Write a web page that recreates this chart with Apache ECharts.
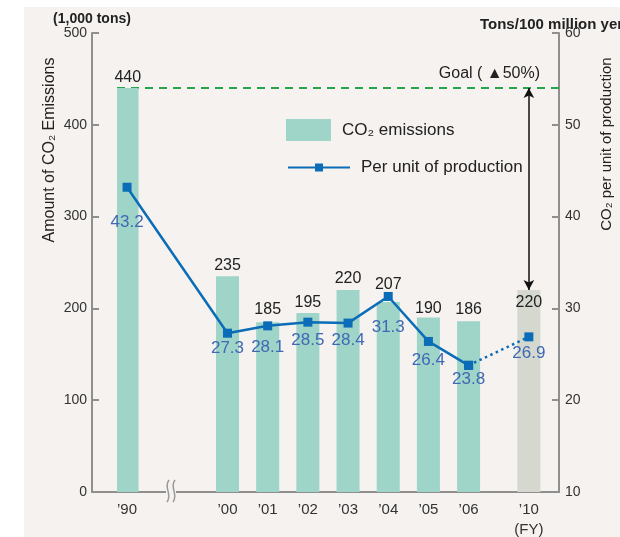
<!DOCTYPE html>
<html><head><meta charset="utf-8">
<script src="https://cdn.jsdelivr.net/npm/echarts@6/dist/echarts.min.js"></script>
<style>
html,body{margin:0;padding:0;background:#fff;}
#bg{position:absolute;left:24px;top:7px;right:0;bottom:0;background:#f5f2ef;}
#main{position:absolute;left:0;top:0;width:620px;height:537px;}
</style></head><body>
<div id="bg"></div><div id="main"></div>
<script>
// ---- data ----
const years = ['’90','’00','’01','’02','’03','’04','’05','’06','’10'];
const emissions = [440, 235, 185, 195, 220, 207, 190, 186, 220];
const perUnit = [43.2, 27.3, 28.1, 28.5, 28.4, 31.3, 26.4, 23.8, 26.9];
const goalValue = 440;
const goalText = 'Goal ( ▲50%)';
const leftRange = [0, 500, 100];
const rightRange = [10, 60, 10];
const leftUnit = '(1,000 tons)';
const rightUnit = 'Tons/100 million yen';
const projectedIndex = 8; // '10 target

// ---- layout (not data) ----
const slot = [0, 5, 7, 9, 11, 13, 15, 17, 20];
const slotCount = 22;
const perUnitLabelGap = [22, 2, 8, 5, 4, 18, 6, 1, 3];
const barLabelGap = [2, 3, 5, 2, 3, 9, 1, 4, 5];

const FONT = 'Liberation Sans, Arial, sans-serif';
const cats = Array(slotCount).fill('');
years.forEach((y, i) => { cats[slot[i]] = y; });

const barData = Array(slotCount).fill(null);
emissions.forEach((v, i) => {
  const item = { value: v, label: { distance: barLabelGap[i] } };
  if (i === projectedIndex) {
    item.itemStyle = { color: '#d5d8ce' };
    item.label.position = 'insideTop';
  }
  barData[slot[i]] = item;
});
const solidData = Array(slotCount).fill(null);
const dotData = Array(slotCount).fill(null);
perUnit.forEach((v, i) => {
  const item = { value: v, label: { distance: perUnitLabelGap[i] } };
  if (i < projectedIndex) solidData[slot[i]] = item;
  if (i >= projectedIndex - 1) {
    dotData[slot[i]] = { value: v, label: { show: i === projectedIndex, distance: perUnitLabelGap[i] } };
  }
});

const axisColor = '#8f8f8f';
const chart = echarts.init(document.getElementById('main'));
chart.setOption({
  animation: false,
  textStyle: { fontFamily: FONT },
  grid: [
    { left: 92, right: 61, top: 33, bottom: 45, outerBoundsMode: 'none', containLabel: false },
    { left: 117, right: 61, top: 33, bottom: 45, outerBoundsMode: 'none', containLabel: false }
  ],
  xAxis: [
    { type: 'value', gridIndex: 0, min: 0, max: 1,
      axisLine: { show: true, onZero: false, lineStyle: { color: axisColor, width: 2 } },
      axisTick: { show: false }, axisLabel: { show: false }, splitLine: { show: false } },
    { type: 'category', gridIndex: 1, data: cats,
      axisLine: { show: false, onZero: false }, axisTick: { show: false }, splitLine: { show: false },
      axisLabel: { interval: 0, margin: 8, fontSize: 15, color: '#333', lineHeight: 20, fontFamily: FONT,
        formatter: v => v === years[projectedIndex] ? v + '\n(FY)' : v } }
  ],
  yAxis: [
    { type: 'value', gridIndex: 0, position: 'left', min: leftRange[0], max: leftRange[1], interval: leftRange[2],
      name: leftUnit, nameLocation: 'end', nameGap: 6,
      nameTextStyle: { fontSize: 14, fontWeight: 'bold', color: '#222', align: 'center', fontFamily: FONT },
      axisLine: { show: true, lineStyle: { color: axisColor, width: 2 } },
      axisTick: { show: true, inside: true, length: 7, lineStyle: { color: axisColor, width: 2 } },
      axisLabel: { fontSize: 14, color: '#333', margin: 5, fontFamily: FONT },
      splitLine: { show: false } },
    { type: 'value', gridIndex: 0, position: 'right', min: rightRange[0], max: rightRange[1], interval: rightRange[2],
      axisLine: { show: true, lineStyle: { color: axisColor, width: 2 } },
      axisTick: { show: true, inside: true, length: 7, lineStyle: { color: axisColor, width: 2 } },
      axisLabel: { fontSize: 14, color: '#333', margin: 6, fontFamily: FONT },
      splitLine: { show: false } },
    { type: 'value', gridIndex: 1, min: leftRange[0], max: leftRange[1], show: false },
    { type: 'value', gridIndex: 1, min: rightRange[0], max: rightRange[1], show: false }
  ],
  legend: [
    { data: ['CO₂ emissions'], left: 281, top: 114, itemWidth: 45, itemHeight: 22, icon: 'rect',
      textStyle: { fontSize: 17, color: '#222', padding: [0, 0, 0, 6], fontFamily: FONT } },
    { data: ['Per unit of production'], left: 282, top: 154, itemWidth: 62, itemHeight: 10,
      textStyle: { fontSize: 17, color: '#222', padding: [0, 0, 0, 6], fontFamily: FONT } }
  ],
  series: [
    { name: 'CO₂ emissions', type: 'bar', xAxisIndex: 1, yAxisIndex: 2, barWidth: 23, z: 2,
      itemStyle: { color: '#9fd4c9' },
      label: { show: true, position: 'top', fontSize: 16, color: '#222', fontFamily: FONT },
      data: barData,
      markLine: {
        z: 1, silent: true, animation: false, symbol: ['none', 'none'],
        data: [
          { yAxis: goalValue,
            lineStyle: { color: '#27a34b', type: [8, 6], width: 2 },
            label: { show: true, position: 'insideEndTop', distance: [19, 6], formatter: goalText,
                     fontSize: 16, color: '#222', fontFamily: FONT } },
          [ { coord: [slot[projectedIndex], goalValue], symbol: 'arrow', symbolSize: [8, 10],
              lineStyle: { color: '#111', type: 'solid', width: 1.5 }, label: { show: false } },
            { coord: [slot[projectedIndex], emissions[projectedIndex]], symbol: 'arrow', symbolSize: [8, 10] } ]
        ]
      }
    },
    { name: 'Per unit of production', type: 'line', xAxisIndex: 1, yAxisIndex: 3, connectNulls: true, z: 3,
      symbol: 'rect', symbolSize: 9,
      lineStyle: { color: '#0b6db7', width: 2.5 }, itemStyle: { color: '#0b6db7' },
      label: { show: true, position: 'bottom', fontSize: 17, color: '#3e69b3', fontFamily: FONT },
      data: solidData },
    { name: 'Per unit projected', type: 'line', xAxisIndex: 1, yAxisIndex: 3, connectNulls: true, z: 3,
      symbol: 'rect', symbolSize: 9,
      lineStyle: { color: '#0b6db7', width: 2.5, type: [2.5, 3.5] }, itemStyle: { color: '#0b6db7' },
      label: { show: true, position: 'bottom', fontSize: 17, color: '#3e69b3', fontFamily: FONT },
      data: dotData }
  ],
  graphic: [
    { type: 'rect', shape: { x: 166, y: 488, width: 10, height: 7 }, style: { fill: '#f5f2ef' }, z: 100 },
    { type: 'bezierCurve', shape: { x1: 169, y1: 480, cpx1: 163, cpy1: 488, cpx2: 173, cpy2: 494, x2: 167, y2: 502 },
      style: { stroke: '#9a9a9a', lineWidth: 1.5, fill: null }, z: 101 },
    { type: 'bezierCurve', shape: { x1: 175, y1: 480, cpx1: 169, cpy1: 488, cpx2: 179, cpy2: 494, x2: 173, y2: 502 },
      style: { stroke: '#9a9a9a', lineWidth: 1.5, fill: null }, z: 101 },
    { type: 'text', x: 480, y: 25,
      style: { text: rightUnit, fontSize: 15, fontWeight: 'bold', fontFamily: FONT, fill: '#222', align: 'left', verticalAlign: 'middle' } },
    { type: 'text', x: 50, y: 150, rotation: Math.PI / 2,
      style: { text: 'Amount of CO₂ Emissions', fontSize: 16, fontFamily: FONT, fill: '#222', align: 'center', verticalAlign: 'middle' } },
    { type: 'text', x: 607, y: 144, rotation: Math.PI / 2,
      style: { text: 'CO₂ per unit of production', fontSize: 15, fontFamily: FONT, fill: '#222', align: 'center', verticalAlign: 'middle' } }
  ]
});
</script>
</body></html>
